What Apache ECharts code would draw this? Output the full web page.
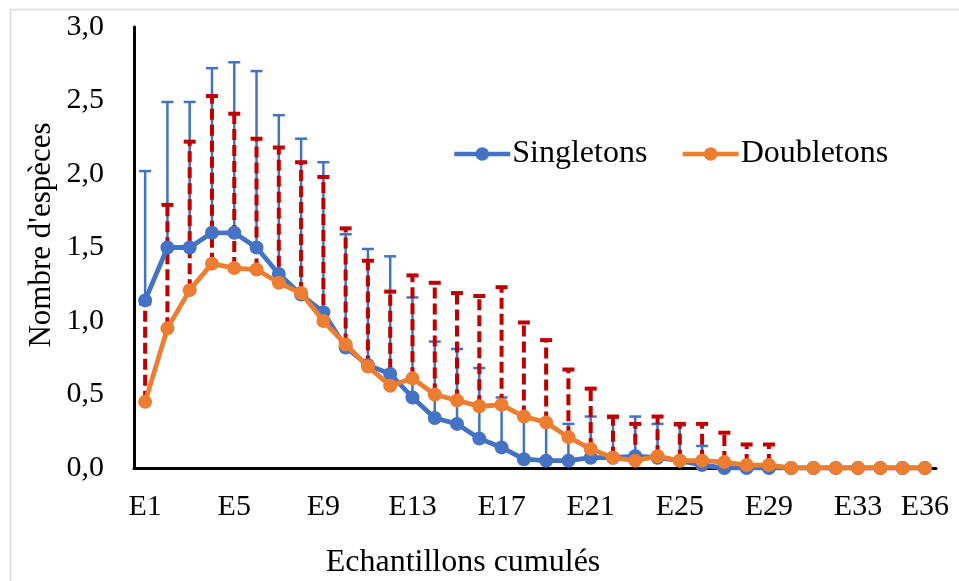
<!DOCTYPE html>
<html>
<head>
<meta charset="utf-8">
<script src="https://cdn.jsdelivr.net/npm/echarts@6/dist/echarts.min.js"></script>
<style>
  html, body { margin: 0; padding: 0; background: #fff; }
  #chart { width: 959px; height: 581px; }
</style>
</head>
<body>
<div id="chart"></div>
<script>
// Cumulative samples E1..E36
const categories = Array.from({ length: 36 }, (_, i) => 'E' + (i + 1));

// Mean number of singleton species per cumulative sample
const singletons = [1.14, 1.50, 1.50, 1.60, 1.60, 1.50, 1.32, 1.18, 1.06, 0.82,
  0.70, 0.64, 0.48, 0.34, 0.30, 0.20, 0.14, 0.06, 0.05, 0.05,
  0.07, 0.07, 0.08, 0.07, 0.05, 0.02, 0, 0, 0, 0,
  0, 0, 0, 0, 0, 0];
// Standard deviation of singletons (upper error bar)
const singletonsSD = [0.88, 0.99, 0.99, 1.12, 1.16, 1.20, 1.08, 1.06, 1.02, 0.77,
  0.79, 0.80, 0.68, 0.52, 0.51, 0.48, 0.34, 0.28, 0.25, 0.25,
  0.28, 0.27, 0.27, 0.23, 0.24, 0.13, 0, 0, 0, 0,
  0, 0, 0, 0, 0, 0];

// Mean number of doubleton species per cumulative sample
const doubletons = [0.45, 0.95, 1.21, 1.39, 1.36, 1.35, 1.26, 1.19, 1.00, 0.84,
  0.69, 0.56, 0.61, 0.50, 0.46, 0.42, 0.43, 0.35, 0.31, 0.21,
  0.13, 0.07, 0.05, 0.08, 0.05, 0.05, 0.04, 0.02, 0.02, 0,
  0, 0, 0, 0, 0, 0];
// Standard deviation of doubletons (upper error bar)
const doubletonsSD = [0.67, 0.84, 1.01, 1.14, 1.05, 0.89, 0.92, 0.89, 0.98, 0.79,
  0.72, 0.64, 0.70, 0.76, 0.73, 0.75, 0.80, 0.64, 0.56, 0.46,
  0.41, 0.28, 0.25, 0.27, 0.25, 0.25, 0.20, 0.14, 0.14, 0,
  0, 0, 0, 0, 0, 0];

// Y axis ticks
const yMin = 0, yMax = 3, yStep = 0.5;

const FONT = '"Liberation Serif", "Times New Roman", serif';
const BLUE = '#4472C4';
const ORANGE = '#ED7D31';
const RED = '#C00000';

function errorRenderer(color, width, dash, capHalf) {
  return function (params, api) {
    const i = api.value(0);
    const v = api.value(1);
    const e = api.value(2);
    if (!e) return null;
    const p0 = api.coord([i, v]);
    const p1 = api.coord([i, v + e]);
    return {
      type: 'group',
      children: [
        {
          type: 'line',
          shape: { x1: p0[0], y1: p0[1], x2: p1[0], y2: p1[1] },
          style: { stroke: color, lineWidth: width, lineDash: dash }
        },
        {
          type: 'line',
          shape: { x1: p1[0] - capHalf, y1: p1[1], x2: p1[0] + capHalf, y2: p1[1] },
          style: { stroke: color, lineWidth: width }
        }
      ]
    };
  };
}

const chart = echarts.init(document.getElementById('chart'), null, { renderer: 'canvas' });

chart.setOption({
  backgroundColor: '#fff',
  animation: false,
  textStyle: { fontFamily: FONT, color: '#000' },
  grid: { left: 134, right: 23, top: 27, bottom: 113, containLabel: false },
  legend: {
    data: ['Singletons', 'Doubletons'],
    left: 452,
    top: 138,
    padding: 0,
    itemWidth: 56,
    itemHeight: 17,
    itemGap: 33,
    lineStyle: { width: 4.5 },
    textStyle: { fontFamily: FONT, fontSize: 32, color: '#000', padding: [0, 0, 0, -3] }
  },
  graphic: [
    {
      type: 'rect',
      shape: { x: 10.5, y: 9.5, width: 1200, height: 1200 },
      style: { fill: null, stroke: '#D9D9D9', lineWidth: 1.5 },
      silent: true
    },
    {
      type: 'text',
      x: 42, y: 235,
      rotation: Math.PI / 2,
      style: {
        text: "Nombre d'espèces",
        font: '31px ' + FONT,
        fill: '#000',
        textAlign: 'center',
        textVerticalAlign: 'middle'
      }
    },
    {
      type: 'text',
      x: 463, y: 563,
      style: {
        text: 'Echantillons cumulés',
        font: '32px ' + FONT,
        fill: '#000',
        textAlign: 'center',
        textVerticalAlign: 'middle'
      }
    }
  ],
  xAxis: {
    type: 'category',
    data: categories,
    boundaryGap: true,
    axisLine: { lineStyle: { color: '#000', width: 3 } },
    axisTick: { show: false },
    axisLabel: {
      interval: (idx) => idx % 4 === 0 || idx === categories.length - 1,
      fontFamily: FONT,
      fontSize: 30,
      color: '#000',
      margin: 24
    },
    splitLine: { show: false }
  },
  yAxis: {
    type: 'value',
    min: yMin,
    max: yMax,
    interval: yStep,
    axisLine: { show: true, lineStyle: { color: '#000', width: 3 } },
    axisTick: { show: false },
    axisLabel: {
      fontFamily: FONT,
      fontSize: 30,
      color: '#000',
      margin: 30,
      formatter: (v) => v.toFixed(1).replace('.', ',')
    },
    splitLine: { show: false }
  },
  series: [
    {
      name: 'SingletonsErr',
      type: 'custom',
      z: 1,
      silent: true,
      encode: { x: 0, y: 1 },
      data: singletons.map((v, i) => [i, v, singletonsSD[i]]),
      renderItem: errorRenderer(BLUE, 2.5, null, 6)
    },
    {
      name: 'DoubletonsErr',
      type: 'custom',
      z: 2,
      silent: true,
      encode: { x: 0, y: 1 },
      data: doubletons.map((v, i) => [i, v, doubletonsSD[i]]),
      renderItem: errorRenderer(RED, 4, [11, 5], 6)
    },
    {
      name: 'Singletons',
      type: 'line',
      z: 3,
      data: singletons,
      symbol: 'circle',
      symbolSize: 14,
      showAllSymbol: true,
      lineStyle: { color: BLUE, width: 4.8 },
      itemStyle: { color: BLUE }
    },
    {
      name: 'Doubletons',
      type: 'line',
      z: 4,
      data: doubletons,
      symbol: 'circle',
      symbolSize: 14,
      showAllSymbol: true,
      lineStyle: { color: ORANGE, width: 4.8 },
      itemStyle: { color: ORANGE }
    }
  ]
});
</script>
</body>
</html>
